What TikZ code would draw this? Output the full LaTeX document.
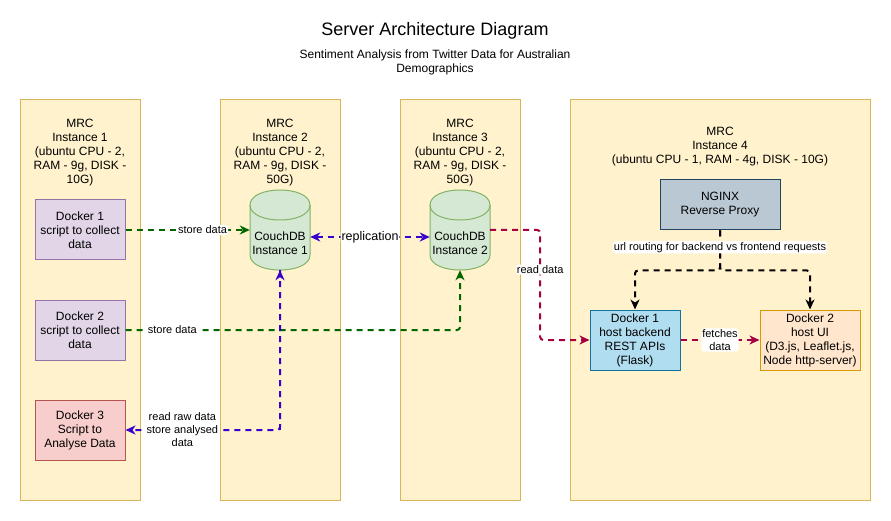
\documentclass[tikz,border=0pt]{standalone}
\usepackage{fontspec}
\setmainfont{Liberation Sans}
\usetikzlibrary{arrows.meta,calc}
\definecolor{contfill}{HTML}{FFF2CC}
\definecolor{contdraw}{HTML}{D6B656}
\definecolor{pfill}{HTML}{E1D5E7}
\definecolor{pdraw}{HTML}{9673A6}
\definecolor{rfill}{HTML}{F8CECC}
\definecolor{rdraw}{HTML}{B85450}
\definecolor{gfill}{HTML}{D5E8D4}
\definecolor{gdraw}{HTML}{82B366}
\definecolor{nfill}{HTML}{BAC8D3}
\definecolor{ndraw}{HTML}{23445D}
\definecolor{bfill}{HTML}{B1DDF0}
\definecolor{bdraw}{HTML}{10739E}
\definecolor{ofill}{HTML}{FFE6CC}
\definecolor{odraw}{HTML}{D79B00}
\definecolor{gcol}{HTML}{006600}
\definecolor{pcol}{HTML}{3700CC}
\definecolor{rcol}{HTML}{A50040}
\begin{document}
\begin{tikzpicture}[x=1pt,y=-1pt,
  cont/.style={draw=contdraw, fill=contfill, line width=1pt, inner sep=0pt, minimum height=400pt},
  ttl/.style={align=center, inner sep=0pt, font=\fontsize{12}{14}\selectfont},
  box/.style={draw, line width=1pt, minimum width=90pt, minimum height=60pt, inner sep=0pt, align=center, font=\fontsize{12}{14}\selectfont},
  cylbox/.style={minimum width=60pt, minimum height=80pt, inner sep=0pt},
  cyl/.style={draw=gdraw, fill=gfill, line width=1pt},
  lbl/.style={fill=white, inner sep=1pt, align=center, font=\fontsize{11}{13}\selectfont},
  conn/.style={line width=2pt, dash pattern=on 6pt off 5pt, rounded corners=3pt, -{Stealth[length=10pt,width=9pt,inset=3pt]}},
  conn2/.style={conn, {Stealth[length=10pt,width=9pt,inset=3pt]}-{Stealth[length=10pt,width=9pt,inset=3pt]}}
]
\useasboundingbox[fill=white] (0,0) rectangle (891,521);

% title
\node[font=\fontsize{18}{21}\selectfont] (title) at (435,31) {Server Architecture Diagram};
\node[align=center, font=\fontsize{12}{14}\selectfont] (sub) at (435,62) {Sentiment Analysis from Twitter Data for Australian\\Demographics};

% containers
\node[cont, minimum width=120pt] (i1) at (80,300) {};
\node[cont, minimum width=120pt] (i2) at (280,300) {};
\node[cont, minimum width=120pt] (i3) at (460,300) {};
\node[cont, minimum width=300pt] (i4) at (720,300) {};

\node[ttl] (t1) at (80,153) {MRC\\Instance 1\\(ubuntu CPU - 2,\\RAM - 9g, DISK -\\10G)};
\node[ttl] (t2) at (280,153) {MRC\\Instance 2\\(ubuntu CPU - 2,\\RAM - 9g, DISK -\\50G)};
\node[ttl] (t3) at (460,153) {MRC\\Instance 3\\(ubuntu CPU - 2,\\RAM - 9g, DISK -\\50G)};
\node[ttl] (t4) at (720,147) {MRC\\Instance 4\\(ubuntu CPU - 1, RAM - 4g, DISK - 10G)};

% instance 1 dockers
\node[box, fill=pfill, draw=pdraw] (d1) at (80,230) {Docker 1\\script to collect\\data};
\node[box, fill=pfill, draw=pdraw] (d2) at (80,330) {Docker 2\\script to collect\\data};
\node[box, fill=rfill, draw=rdraw] (d3) at (80,430) {Docker 3\\Script to\\Analyse Data};

% cylinders
\node[cylbox] (c1) at (280,230) {};
\filldraw[cyl] (250,205) -- (250,255) .. controls (250,275) and (310,275) .. (310,255) -- (310,205) .. controls (310,185) and (250,185) .. (250,205) -- cycle;
\draw[cyl, fill=none] (250,205) .. controls (250,225) and (310,225) .. (310,205);
\node[ttl] (c1t) at (280,243) {CouchDB\\Instance 1};

\node[cylbox] (c2) at (460,230) {};
\filldraw[cyl] (430,205) -- (430,255) .. controls (430,275) and (490,275) .. (490,255) -- (490,205) .. controls (490,185) and (430,185) .. (430,205) -- cycle;
\draw[cyl, fill=none] (430,205) .. controls (430,225) and (490,225) .. (490,205);
\node[ttl] (c2t) at (460,243) {CouchDB\\Instance 2};

% instance 4
\node[box, fill=nfill, draw=ndraw, minimum width=120pt, minimum height=50pt] (ng) at (720,205) {NGINX\\Reverse Proxy};
\node[box, fill=bfill, draw=bdraw] (b1) at (635,340) {Docker 1\\host backend\\REST APIs\\(Flask)};
\node[box, fill=ofill, draw=odraw, minimum width=100pt] (ui) at (810,340) {Docker 2\\host UI\\(D3.js, Leaflet.js,\\Node http-server)};

% connectors
\draw[conn, gcol] (d1.east) -- node[lbl, text=black, pos=0.62] {store data} (c1.west);
\draw[conn, gcol] (d2.east) -| node[lbl, text=black, pos=0.07] {store data} (c2.south);
\draw[conn2, pcol] ($(c1.east)+(0,7)$) -- node[lbl, text=black, font=\fontsize{12.5}{14}\selectfont] {replication} ($(c2.west)+(0,7)$);
\draw[conn, pcol] (c1.south) |- node[lbl, text=black, pos=0.816] {read raw data\\store analysed\\data} (d3.east);
\draw[conn, pcol, -{Stealth[length=10pt,width=9pt,inset=3pt]}] (c1.south |- d3.east) -- (c1.south);
\draw[conn, rcol] (c2.east) -- ++(50,0) |- node[lbl, text=black, pos=0.18] {read data} (b1.west);
\draw[conn, rcol] (b1.east) -- node[lbl, text=black] {fetches\\data} (ui.west);
\draw[conn, black] (ng.south) -- ++(0,40) -| (b1.north);
\draw[conn, black] (ng.south) -- node[lbl, pos=0.42] {url routing for backend vs frontend requests} ++(0,40) -| (ui.north);
\end{tikzpicture}
\end{document}
